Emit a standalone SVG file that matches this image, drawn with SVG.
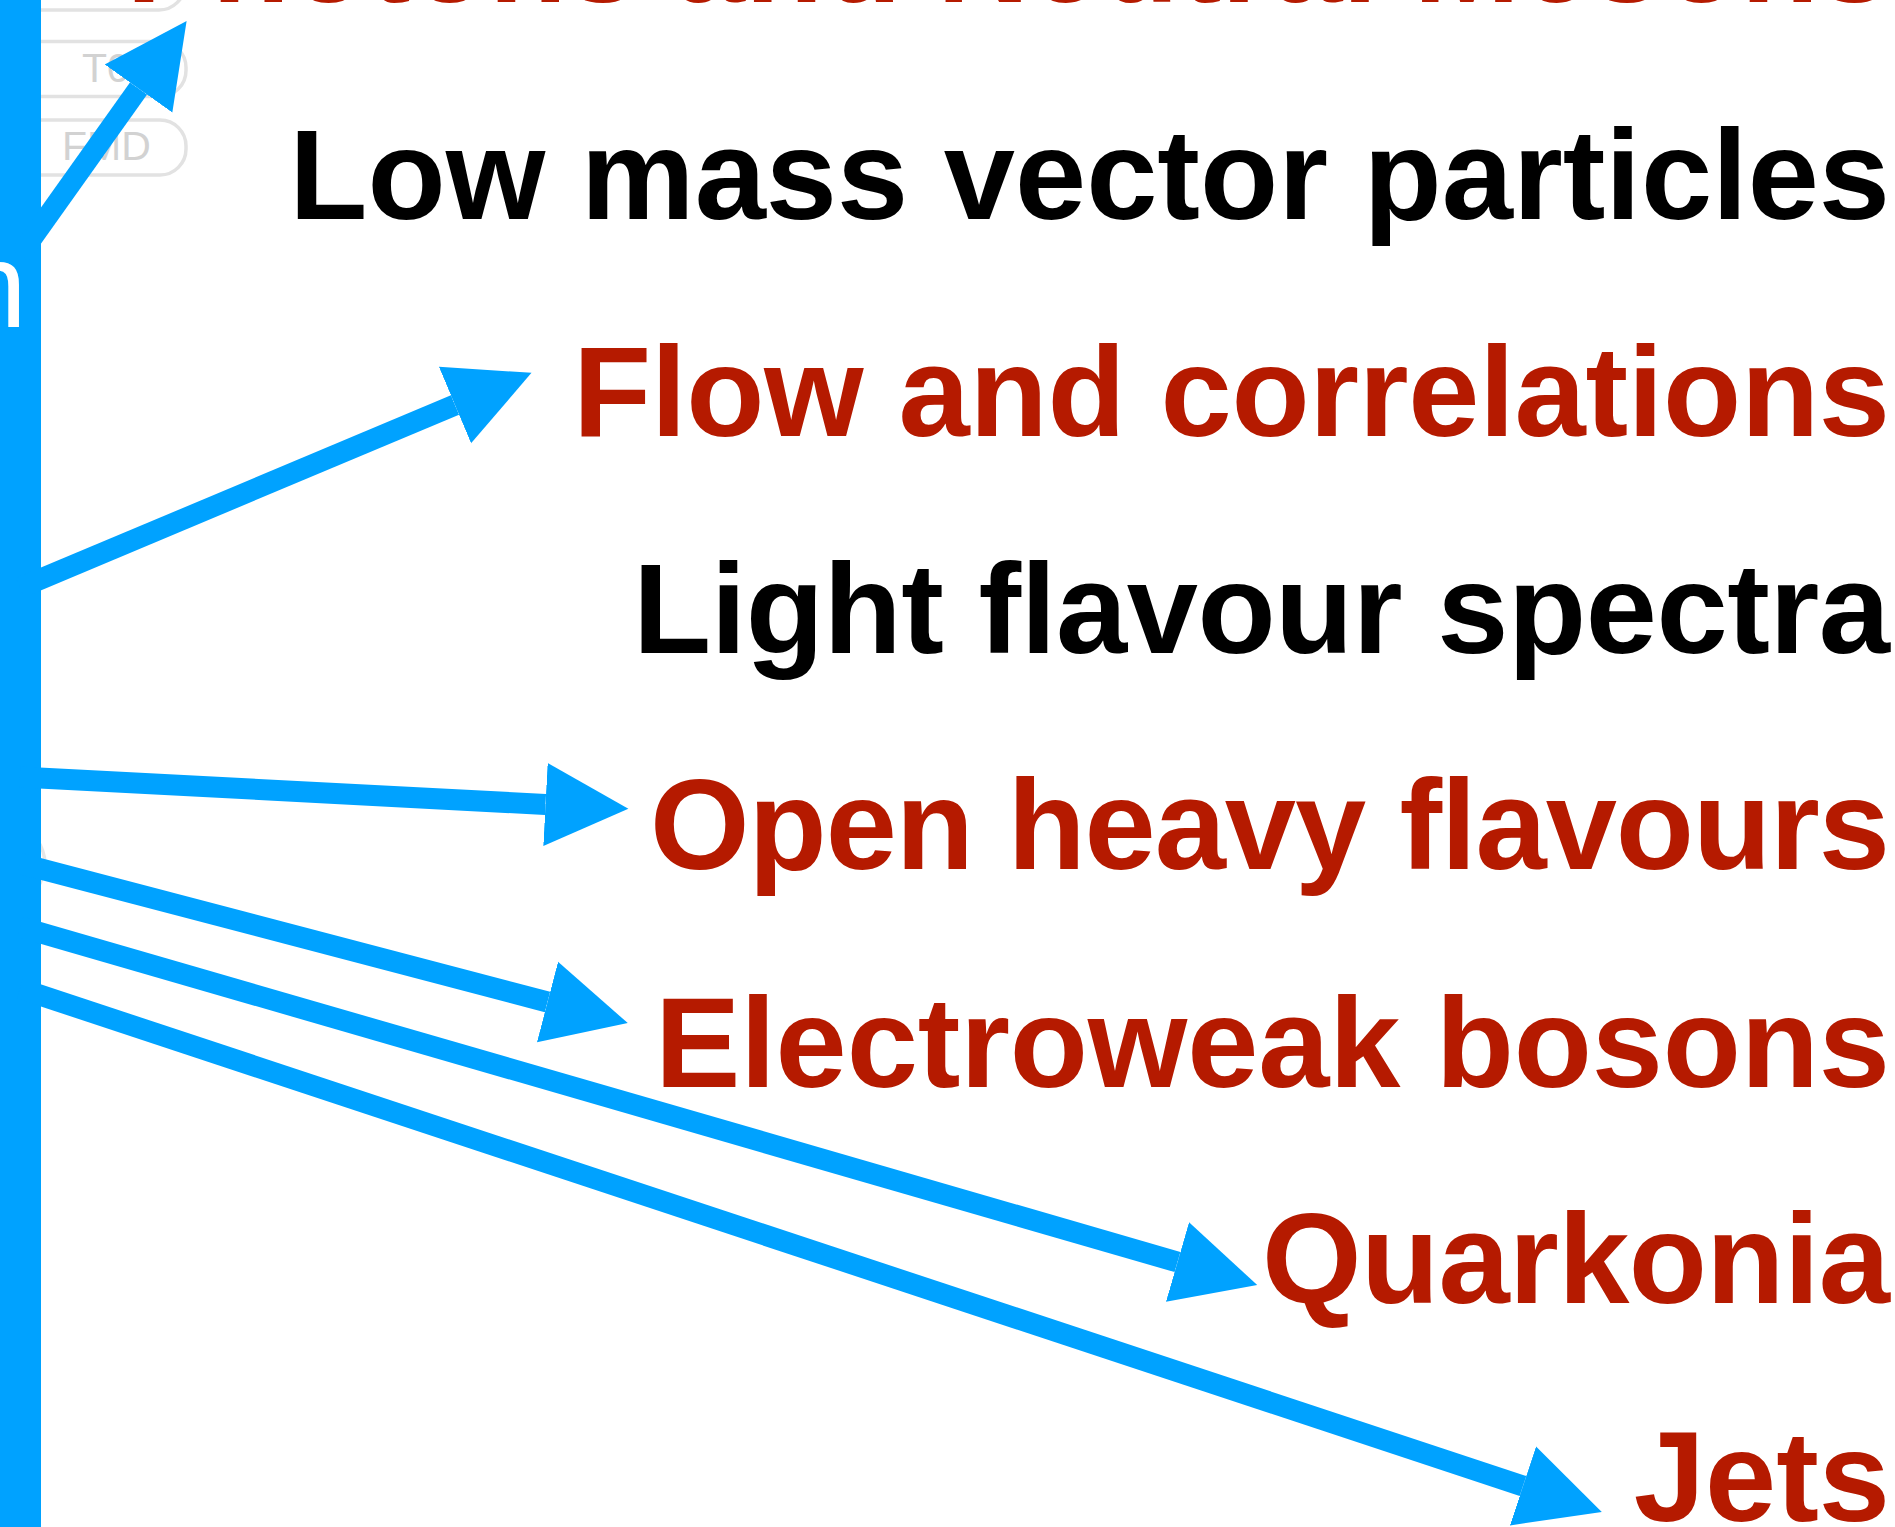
<svg xmlns="http://www.w3.org/2000/svg" width="1895" height="1527" viewBox="0 0 1895 1527">
  <style>
    .lbl { font-family: "Liberation Sans", Arial, Helvetica, sans-serif; font-weight: bold; font-size: 128px; text-anchor: end; }
    .red { fill: #b51a00; }
    .blk { fill: #000000; }
    .det { fill: #ffffff; stroke: #e2e2e2; stroke-width: 3.5; }
    .dett { font-family: "Liberation Sans", Arial, sans-serif; font-size: 41px; fill: #d2d2d2; }
    .conn { stroke: #00a2ff; stroke-width: 21; fill: none; marker-end: url(#head); }
  </style>
  <defs>
    <marker id="head" markerUnits="userSpaceOnUse" markerWidth="90" markerHeight="90" refX="0" refY="0" viewBox="0 -45 90 90" orient="auto">
      <path d="M0,-41.5 L83,0 L0,41.5 Z" fill="#00a2ff"/>
    </marker>
  </defs>
  <rect width="1895" height="1527" fill="#ffffff"/>

  <g id="detector-top">
    <rect class="det" x="-40" y="-45" width="225" height="55" rx="26"/>
  </g>
  <g id="detector-t0">
    <rect class="det" x="-40" y="41.5" width="226" height="55" rx="26"/>
    <text class="dett" x="82" y="82">T0</text>
  </g>
  <g id="detector-fmd">
    <rect class="det" x="-40" y="120" width="226" height="55" rx="26"/>
    <text class="dett" x="62" y="160">FMD</text>
  </g>
  <g id="detector-hidden">
    <path d="M36,838 Q54,864 36,890" fill="none" stroke="#e6e6e6" stroke-width="3.5"/>
  </g>

  <g id="bar">
    <rect x="-10" y="-10" width="51" height="1547" fill="#00a2ff"/>
    <text x="-40" y="327" font-family="Liberation Sans, Arial, sans-serif" font-size="120" fill="#ffffff">n</text>
  </g>

  <g id="connectors">
    <line class="conn" x1="20" y1="255" x2="138.5" y2="88.5"/>
    <line class="conn" x1="20" y1="587.8" x2="455" y2="405"/>
    <line class="conn" x1="20" y1="776.9" x2="545.5" y2="804.5"/>
    <line class="conn" x1="20" y1="863.5" x2="547.5" y2="1002"/>
    <line class="conn" x1="20" y1="926.9" x2="1177.5" y2="1262"/>
    <line class="conn" x1="20" y1="988.5" x2="1523" y2="1486"/>
  </g>

  <g id="photons-neutral-mesons"><text class="lbl red" x="1890" y="2">Photons and Neutral Mesons</text></g>
  <g id="low-mass-vector-particles"><text class="lbl blk" x="1890" y="219">Low mass vector particles</text></g>
  <g id="flow-and-correlations"><text class="lbl red" x="1890" y="436" textLength="1317" lengthAdjust="spacing">Flow and correlations</text></g>
  <g id="light-flavour-spectra"><text class="lbl blk" x="1890" y="653" textLength="1257" lengthAdjust="spacing">Light flavour spectra</text></g>
  <g id="open-heavy-flavours"><text class="lbl red" x="1890" y="869" textLength="1240" lengthAdjust="spacing">Open heavy flavours</text></g>
  <g id="electroweak-bosons"><text class="lbl red" x="1890" y="1087" textLength="1235" lengthAdjust="spacing">Electroweak bosons</text></g>
  <g id="quarkonia"><text class="lbl red" x="1890" y="1303" textLength="628" lengthAdjust="spacing">Quarkonia</text></g>
  <g id="jets"><text class="lbl red" x="1890" y="1521">Jets</text></g>
</svg>
